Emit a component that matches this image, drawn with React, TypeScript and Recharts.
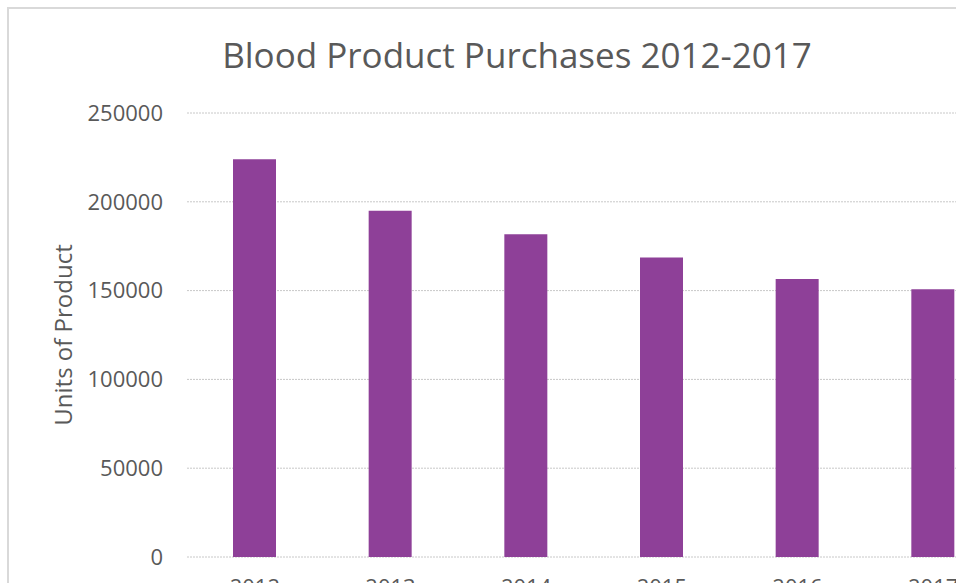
import React from 'react';
import { BarChart, Bar, XAxis, YAxis, CartesianGrid, Label } from 'recharts';

const years = ['2012', '2013', '2014', '2015', '2016', '2017'];
const units = [224000, 195000, 181700, 168700, 156500, 150700];
const yTicks = [0, 50000, 100000, 150000, 200000, 250000];

const data = years.map((y, i) => ({ year: y, units: units[i] }));

const FONT = '"Open Sans", "Noto Sans", sans-serif';

export default function App() {
  return (
    <div
      style={{
        position: 'fixed',
        left: 0,
        top: 0,
        width: 956,
        height: 583,
        overflow: 'hidden',
        background: '#fff',
      }}
    >
      <div
        style={{
          position: 'absolute',
          left: 7,
          top: 7,
          width: 1000,
          height: 700,
          borderLeft: '2px solid #d9d9d9',
          borderTop: '2px solid #d9d9d9',
          boxSizing: 'border-box',
        }}
      />
      <div style={{ position: 'absolute', left: 0, top: 0 }}>
        <BarChart
          width={1010}
          height={620}
          data={data}
          margin={{ top: 113, right: 9, bottom: 23, left: 40 }}
        >
          <CartesianGrid
            vertical={false}
            stroke="#c8c8c8"
            strokeDasharray="2 1"
          />
          <XAxis
            dataKey="year"
            axisLine={false}
            tickLine={false}
            tickSize={0}
            tickMargin={22}
            height={40}
            tick={{ fill: '#595959', fontSize: 22, fontFamily: FONT }}
          />
          <YAxis
            width={147}
            domain={[0, 250000]}
            ticks={yTicks}
            interval={0}
            axisLine={false}
            tickLine={false}
            tickSize={0}
            tickMargin={24}
            tick={{ fill: '#595959', fontSize: 22, fontFamily: FONT }}
          >
            <Label
              value="Units of Product"
              angle={-90}
              position="insideLeft"
              offset={0}
              dx={23}
              style={{ fill: '#595959', fontSize: 24, fontFamily: FONT, textAnchor: 'middle' }}
            />
          </YAxis>
          <Bar
            dataKey="units"
            fill="#8E4098"
            barSize={43}
            isAnimationActive={false}
          />
        </BarChart>
      </div>
      <svg
        width={956}
        height={100}
        style={{ position: 'absolute', left: 0, top: 0, pointerEvents: 'none' }}
      >
        <text
          x={517}
          y={68}
          textAnchor="middle"
          fill="#595959"
          fontSize={35}
          fontFamily={FONT}
        >
          Blood Product Purchases 2012-2017
        </text>
      </svg>
    </div>
  );
}
